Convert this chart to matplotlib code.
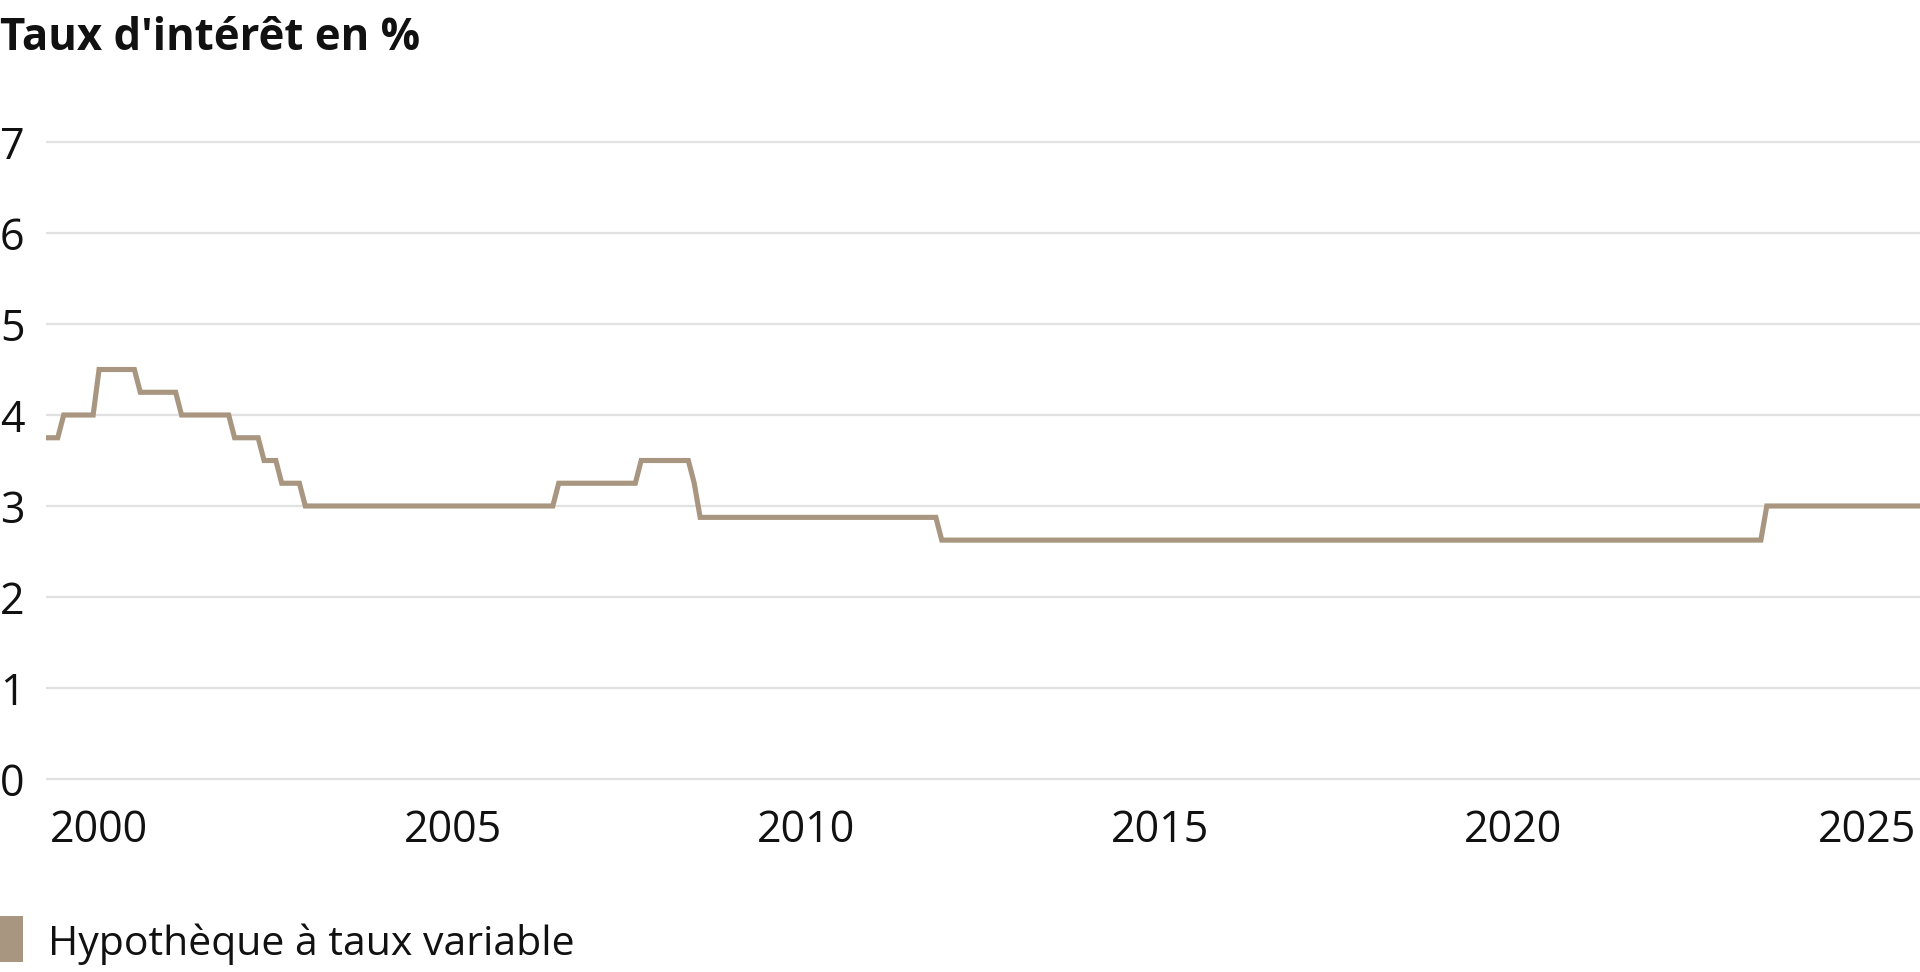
import matplotlib
matplotlib.use("Agg")
import matplotlib.pyplot as plt
from matplotlib.patches import Rectangle

# ---- data (month, rate in %) : vertices of the step line ----
months = ["1999-04", "1999-06", "1999-07", "1999-12", "2000-01", "2000-07", "2000-08",
          "2001-02", "2001-03", "2001-11", "2001-12", "2002-04", "2002-05", "2002-07",
          "2002-08", "2002-11", "2002-12", "2006-06", "2006-07", "2007-08", "2007-09",
          "2008-05", "2008-06", "2008-07", "2011-11", "2011-12", "2023-07", "2023-08",
          "2025-10"]
rates = [3.75, 3.75, 4.00, 4.00, 4.50, 4.50, 4.25,
         4.25, 4.00, 4.00, 3.75, 3.75, 3.50, 3.50,
         3.25, 3.25, 3.00, 3.00, 3.25, 3.25, 3.50,
         3.50, 3.25, 2.875, 2.875, 2.625, 2.625, 3.00,
         3.00]
x_ticks = [2000, 2005, 2010, 2015, 2020, 2025]
y_ticks = [0, 1, 2, 3, 4, 5, 6, 7]
title = "Taux d'intérêt en %"
series_name = "Hypothèque à taux variable"

LINE_COLOR = "#a89680"
GRID_COLOR = "#e1e1e1"
FONT = ["Open Sans", "DejaVu Sans"]

def to_year(m):
    y, mo = m.split("-")
    return int(y) + (int(mo) - 1) / 12.0

xs = [to_year(m) for m in months]

W, H = 1920, 972
fig = plt.figure(figsize=(W / 100, H / 100), dpi=100)
fig.patch.set_facecolor("white")

# axes placement in pixels
ax_left, ax_right = 46, 1920
ax_top, ax_bottom = 137.5, 783.5
ax = fig.add_axes([ax_left / W, 1 - ax_bottom / H, (ax_right - ax_left) / W, (ax_bottom - ax_top) / H])

ax.plot(xs, rates, color=LINE_COLOR, lw=3.7, solid_joinstyle="miter", solid_capstyle="butt", zorder=3)

ax.set_xlim(1999.25, 2025.75)
ax.set_ylim(-0.05, 7.05)
ax.set_xticks(x_ticks)
ax.set_xticklabels([str(t) for t in x_ticks])
ax.set_yticks(y_ticks)
ax.set_yticklabels([str(t) for t in y_ticks])
ax.grid(axis="y", color=GRID_COLOR, lw=1.6, zorder=1)
ax.grid(axis="x", visible=False)
for s in ax.spines.values():
    s.set_visible(False)
ax.tick_params(axis="both", length=0, labelsize=31, colors="#111111")
ax.tick_params(axis="y", pad=15.5)
ax.tick_params(axis="x", pad=18)
for lab in ax.get_xticklabels() + ax.get_yticklabels():
    lab.set_family(FONT)
ax.set_facecolor("white")

# title
fig.text(0 / W, 1 - 50 / H, title, fontsize=31.5, fontweight="bold", family=FONT,
         color="#111111", ha="left", va="baseline")

# legend
fig.patches.append(Rectangle((0, 1 - 962 / H), 23 / W, 46 / H, transform=fig.transFigure,
                             facecolor=LINE_COLOR, edgecolor="none"))
fig.text(48 / W, 1 - 955 / H, series_name, fontsize=29.5, family=FONT,
         color="#111111", ha="left", va="baseline")

fig.savefig("out.png", dpi=100, facecolor="white")
